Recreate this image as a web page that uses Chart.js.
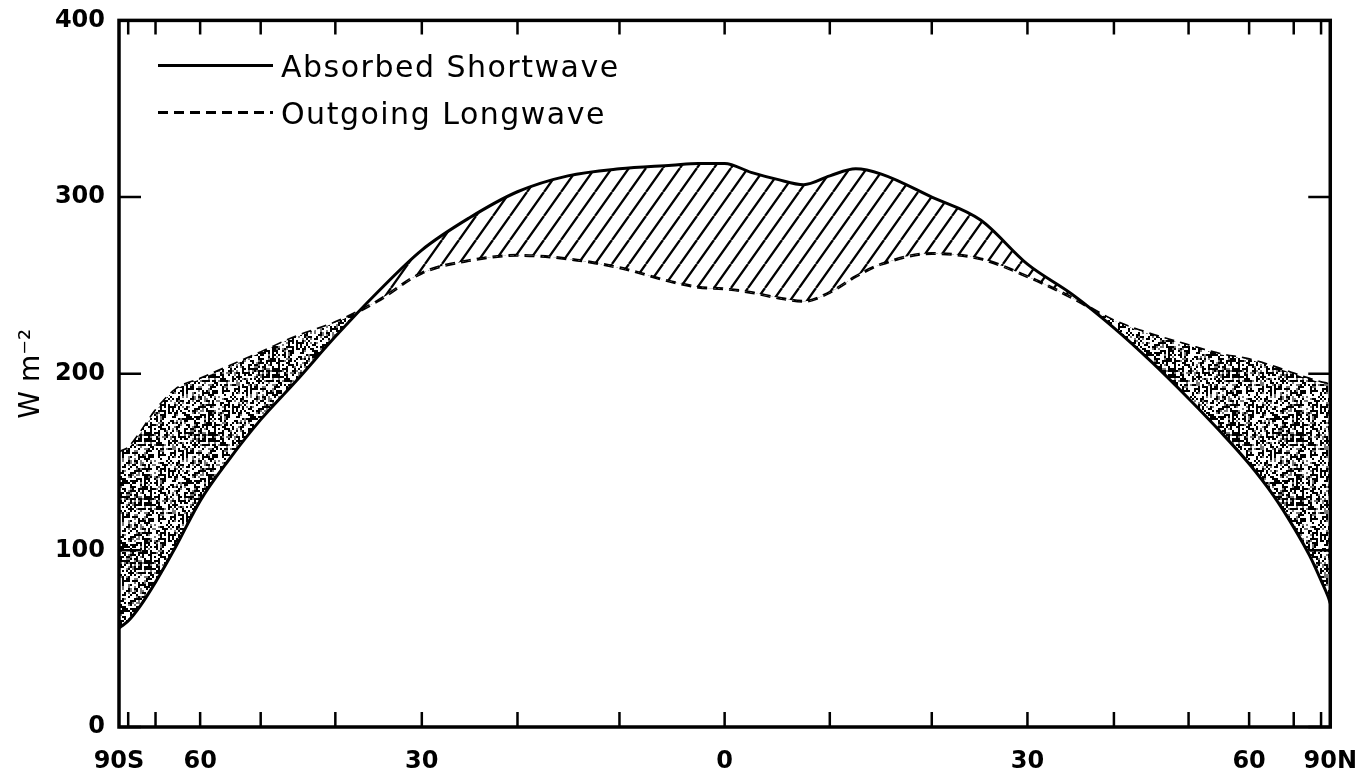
<!DOCTYPE html>
<html lang="en">
<head>
<meta charset="UTF-8">
<title>Absorbed Shortwave and Outgoing Longwave</title>
<style>
  body { margin: 0; background: #fff; }
  #wrap { width: 1369px; height: 776px; }
</style>
</head>
<body>
<div id="wrap"><canvas id="chart" width="1369" height="776"></canvas></div>
<script src="https://cdn.jsdelivr.net/npm/chart.js"></script>
<script>
// latitude in degrees, south negative (x axis is area weighted: sin(lat))
const latitudes = [-90, -85, -80, -75, -70, -65, -60, -55, -50, -45, -40, -35, -30, -25, -20, -15, -10, -5, -2.5,
                   0, 2.5, 5, 7.5, 10, 12.5, 15, 20, 25, 30, 35, 40, 45, 50, 55, 60, 65, 70, 75, 80, 85, 90];
const absorbed = [56, 57, 60, 68, 82, 102, 128, 151, 174, 196, 221, 246, 270, 288, 303, 312, 316, 318, 319,
                  319, 314, 310, 307, 312, 316, 313, 300, 287, 262, 245, 226, 206, 186, 167, 149, 131, 113, 97, 83, 74, 70];
const outgoing = [155, 156, 158, 166, 179, 191, 197, 204, 212, 221, 229, 241, 257, 264, 267, 265, 260, 252, 249,
                  248, 246, 243, 241, 246, 255, 262, 268, 265, 255, 243, 230, 222, 216, 211, 208, 204, 200, 197, 195, 194, 193];

const labelLats = [-90, -60, -30, 0, 30, 60, 90];
const labelText = ['90S', '60', '30', '0', '30', '60', '90N'];
const tickLats = [-80, -70, -60, -50, -40, -30, -20, -10, 0, 10, 20, 30, 40, 50, 60, 70, 80];
const yTicks = [0, 100, 200, 300, 400];

const seriesNames = ['Absorbed Shortwave', 'Outgoing Longwave'];

const toX = lat => Math.sin(lat * Math.PI / 180);

function hatchPattern() {
    const c = document.createElement('canvas');
    const w = 17, h = 24;
    c.width = w; c.height = h;
    const g = c.getContext('2d');
    g.strokeStyle = '#000';
    g.lineWidth = 2.3;
    g.beginPath();
    for (let k = -1; k <= 1; k++) {
        g.moveTo(k * w, h);
        g.lineTo(k * w + w, 0);
    }
    g.stroke();
    return g.createPattern(c, 'repeat');
}

function stipplePattern() {
    const n = 64;
    const c = document.createElement('canvas');
    c.width = c.height = n;
    const g = c.getContext('2d');
    g.fillStyle = '#fff';
    g.fillRect(0, 0, n, n);
    let s = 24691;
    const next = () => (s = (s * 16807) % 2147483647) / 2147483647;
    for (let yy = 0; yy < n; yy += 2) {
        for (let xx = 0; xx < n; xx += 2) {
            const r = next();
            if (r < 0.40) { g.fillStyle = '#000'; g.fillRect(xx, yy, 2, 2); }
            else if (r < 0.52) { g.fillStyle = '#777'; g.fillRect(xx, yy, 2, 2); }
        }
    }
    return g.createPattern(c, 'repeat');
}

const frame = {
    id: 'frame',
    afterDatasetsDraw(chart) {
        const { ctx, chartArea: a, scales: { x, y } } = chart;
        ctx.save();
        ctx.strokeStyle = '#000';
        ctx.lineWidth = 3.5;
        ctx.strokeRect(a.left, a.top, a.right - a.left, a.bottom - a.top);

        // inward tick marks
        ctx.lineWidth = 2.5;
        ctx.beginPath();
        tickLats.forEach(lat => {
            const px = x.getPixelForValue(toX(lat));
            ctx.moveTo(px, a.bottom); ctx.lineTo(px, a.bottom - 15);
            ctx.moveTo(px, a.top); ctx.lineTo(px, a.top + 14);
        });
        yTicks.forEach(v => {
            const py = y.getPixelForValue(v);
            ctx.moveTo(a.left, py); ctx.lineTo(a.left + 22, py);
            ctx.moveTo(a.right, py); ctx.lineTo(a.right - 22, py);
        });
        ctx.stroke();

        // legend inside the plot
        const rows = [a.top + 57, a.top + 104];
        chart.data.datasets.forEach((ds, i) => {
            const yy = rows[i] - 12;
            ctx.lineWidth = 3;
            ctx.setLineDash(ds.borderDash || []);
            ctx.beginPath();
            ctx.moveTo(a.left + 39, yy);
            ctx.lineTo(a.left + 154, yy);
            ctx.stroke();
            ctx.setLineDash([]);
            ctx.fillStyle = '#000';
            ctx.font = '30px "DejaVu Sans"';
            ctx.letterSpacing = '1.5px';
            ctx.textBaseline = 'alphabetic';
            ctx.fillText(ds.label, a.left + 162, rows[i]);
        });
        ctx.restore();
    }
};

Chart.defaults.font.family = '"DejaVu Sans", sans-serif';
Chart.defaults.color = '#000';

new Chart(document.getElementById('chart'), {
    type: 'line',
    data: {
        datasets: [
            {
                label: seriesNames[0],
                data: latitudes.map((lat, i) => ({ x: toX(lat), y: absorbed[i] })),
                borderColor: '#000',
                borderWidth: 3,
                pointRadius: 0,
                cubicInterpolationMode: 'monotone',
                fill: { target: 1, above: hatchPattern(), below: stipplePattern() }
            },
            {
                label: seriesNames[1],
                data: latitudes.map((lat, i) => ({ x: toX(lat), y: outgoing[i] })),
                borderColor: '#000',
                borderWidth: 3,
                borderDash: [10, 6],
                pointRadius: 0,
                cubicInterpolationMode: 'monotone',
                fill: false
            }
        ]
    },
    options: {
        responsive: false,
        animation: false,
        layout: { padding: { left: 0, top: 17, right: 35, bottom: 0 } },
        plugins: { legend: { display: false }, tooltip: { enabled: false } },
        scales: {
            x: {
                type: 'linear',
                min: -1,
                max: 1,
                grid: { display: false },
                border: { display: false },
                afterBuildTicks: scale => {
                    scale.ticks = labelLats.map(lat => ({ value: toX(lat) }));
                },
                afterFit: scale => { scale.height = 49; },
                ticks: {
                    autoSkip: false,
                    maxRotation: 0,
                    padding: 12,
                    font: { size: 24, weight: 'bold' },
                    callback: (value, index) => labelText[index]
                }
            },
            y: {
                min: 0,
                max: 400,
                grid: { display: false },
                border: { display: false },
                afterBuildTicks: scale => {
                    scale.ticks = yTicks.map(v => ({ value: v }));
                },
                afterFit: scale => { scale.width = 119; },
                ticks: { padding: 6, font: { size: 24, weight: 'bold' } },
                title: {
                    display: true,
                    text: 'W m⁻²',
                    font: { size: 28 },
                    padding: { top: 15, bottom: 0 }
                }
            }
        }
    },
    plugins: [frame]
});
</script>
</body>
</html>
